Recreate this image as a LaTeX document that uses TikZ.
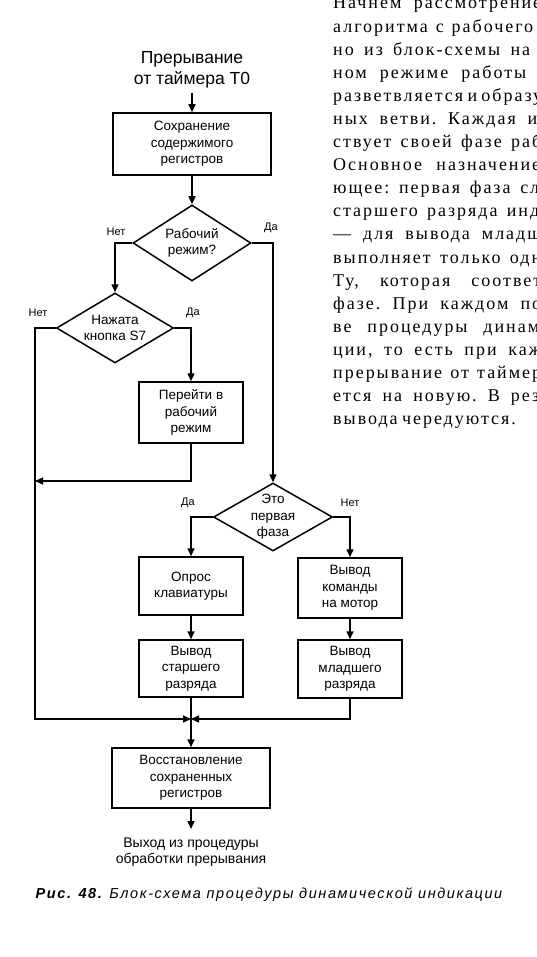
\documentclass[tikz,border=0pt]{standalone}
\usepackage{fontspec}
\setmainfont{Liberation Serif}
\newfontfamily\flowfont{Liberation Sans}
\newfontfamily\bodyfont[LetterSpace=11]{Liberation Serif}
\newfontfamily\capfont[LetterSpace=11]{Liberation Sans}
\usetikzlibrary{shapes.geometric,arrows.meta}

\begin{document}
\begin{tikzpicture}[x=1pt,y=-1pt,
	every node/.style={inner sep=0pt},
	ln/.style={line width=1.5pt},
	arr/.style={ln,-{Triangle[length=8pt,width=7pt]}},
	blk/.style={draw,ln,align=center,minimum width=104pt,minimum height=58pt,
		font=\flowfont\fontsize{13.5}{16.5}\selectfont},
	wideblk/.style={blk,minimum width=158pt,minimum height=61pt},
	decide/.style={draw,ln,diamond,aspect=1.6,align=center,
		font=\flowfont\fontsize{13.5}{16}\selectfont},
	yn/.style={font=\flowfont\fontsize{11}{12}\selectfont},
	]
	\useasboundingbox (0,0) rectangle (537,957);
	\clip (0,0) rectangle (537,957);

	% text column of the page, cut at the right edge
	\foreach \w/\t [count=\i] in {208/Начнем рассмотрение, 200/алгоритма с рабочего,
		197/но из блок-схемы на, 193/ном режиме работы, 208/разветвляется и образу,
		204/{ных ветви. Каждая и}, 208/ствует своей фазе раб, 207/Основное назначение,
		206/{ющее: первая фаза сл}, 206/старшего разряда инд, 208/— для вывода младш,
		208/выполняет только одн, 208/{Ту, которая соответ}, 208/{фазе. При каждом по},
		206/ве процедуры динам, 208/{ции, то есть при каж}, 208/прерывание от таймер,
		206/{ется на новую. В рез}, 178/вывода чередуются.}
		\node[anchor=base west,font=\bodyfont\fontsize{18}{20}\selectfont\frenchspacing] (t\i) at (333,{9+(\i-1)*23.1}) {\makebox[\w pt][s]{\t}};

	% flowchart
	\node[align=center,inner ysep=4pt,font=\flowfont\fontsize{17.5}{21}\selectfont] (irq) at (192,70) {Прерывание\\от таймера T0};
	\node[wideblk,minimum height=62pt] (save) at (192,144) {Сохранение\\содержимого\\регистров};
	\node[decide,minimum width=118pt,minimum height=76pt] (mode) at (192,243) {Рабочий\\режим?};
	\node[decide,minimum width=117pt,minimum height=70pt] (btn) at (115,328) {Нажата\\кнопка S7};
	\node[blk,minimum height=61pt] (run) at (191,412.5) {Перейти в\\рабочий\\режим};
	\node[decide,minimum width=119pt,minimum height=68pt,
		label={[align=center,font=\flowfont\fontsize{13.5}{16.5}\selectfont]center:Это\\первая\\фаза}] (phase) at (273,517) {};
	\node[blk] (kbd) at (191,586) {Опрос\\клавиатуры};
	\node[blk,minimum height=57pt] (hi) at (191,668.5) {Вывод\\старшего\\разряда};
	\node[blk,minimum height=60pt] (motor) at (350,588) {Вывод\\команды\\на мотор};
	\node[blk] (lo) at (350,669) {Вывод\\младшего\\разряда};
	\node[wideblk,minimum height=60pt] (rest) at (191,778) {Восстановление\\сохраненных\\регистров};
	\node[anchor=north,inner ysep=9pt,align=center,font=\flowfont\fontsize{14}{15.5}\selectfont] (exit) at (191,829) {Выход из процедуры\\обработки прерывания};

	\node[yn] (no1) at (116,232) {Нет};
	\node[yn] (yes1) at (271,228) {Да};
	\node[yn] (no2) at (38,313) {Нет};
	\node[yn] (yes2) at (193,313) {Да};
	\node[yn] (yes3) at (188,503) {Да};
	\node[yn] (no3) at (350,503) {Нет};

	\coordinate (lc) at (35,719);
	\coordinate (jn) at (191,719);
	\coordinate (back) at (35,481);

	\draw[arr] (irq) -- (save);
	\draw[arr] (save) -- (mode);
	\draw[arr] (mode.west) -| (btn.north);
	\draw[arr] (mode.east) -| (phase.north);
	\draw[arr] (btn.east) -| (run.north);
	\draw[arr] (btn.west) -| (lc) -- (jn);
	\draw[arr] (run.south) |- (back);
	\draw[arr] (phase.west) -| (kbd.north);
	\draw[arr] (phase.east) -| (motor.north);
	\draw[arr] (kbd) -- (hi);
	\draw[arr] (motor) -- (lo);
	\draw[arr] (lo.south) |- (jn);
	\draw[arr] (hi) -- (rest);
	\draw[arr] (rest) -- (exit);

	\node[font=\capfont\fontsize{14.5}{16}\selectfont] (cap) at (269,895) {{\bfseries\itshape Рис. 48.} {\itshape Блок-схема процедуры динамической индикации}};
\end{tikzpicture}
\end{document}
